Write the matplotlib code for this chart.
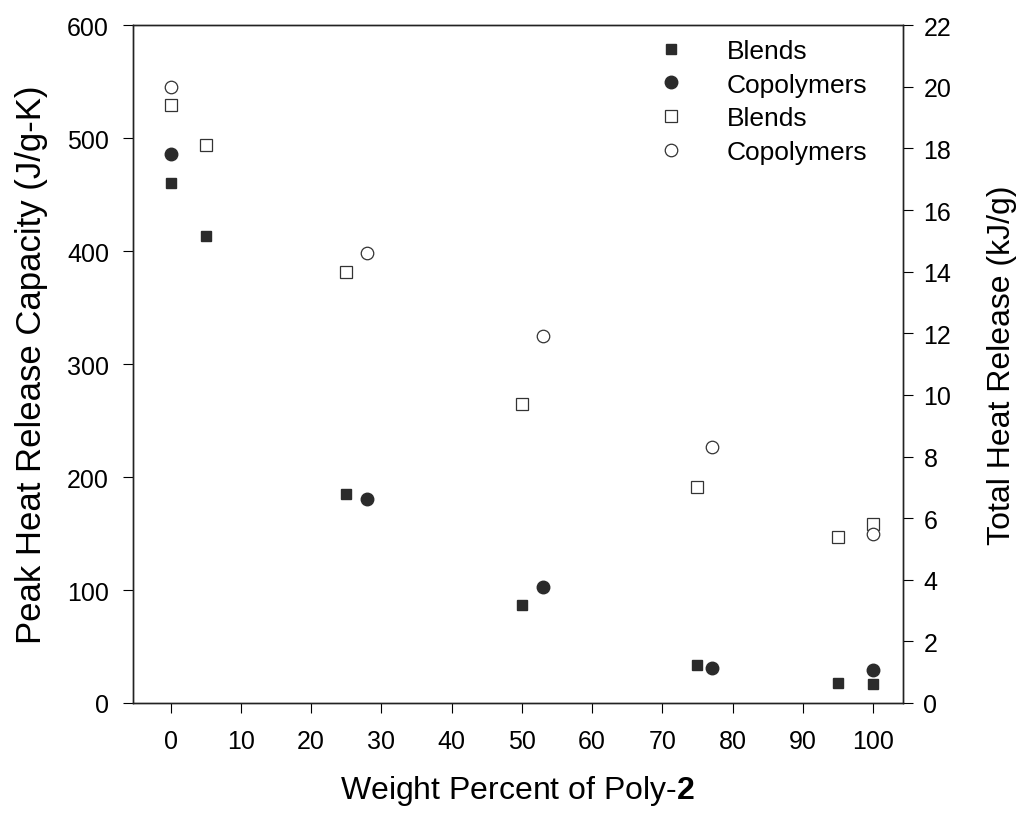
import matplotlib
matplotlib.use('Agg')
import matplotlib.pyplot as plt

plt.rcParams['font.family'] = ['Liberation Sans', 'DejaVu Sans']
plt.rcParams['mathtext.fontset'] = 'custom'
plt.rcParams['mathtext.bf'] = 'Liberation Sans:bold'

# Peak heat release capacity (left axis, J/g-K)
blend_x = [0, 5, 25, 50, 75, 95, 100]
blend_phrc = [460, 413, 185, 87, 34, 18, 17]
copo_x = [0, 28, 53, 77, 100]
copo_phrc = [486, 181, 103, 31, 29]

# Total heat release (right axis, kJ/g)
blend_thr = [19.4, 18.1, 14.0, 9.7, 7.0, 5.4, 5.8]
copo_thr = [20.0, 14.6, 11.9, 8.3, 5.5]

x_ticks = [0, 10, 20, 30, 40, 50, 60, 70, 80, 90, 100]
left_ticks = [0, 100, 200, 300, 400, 500, 600]
right_ticks = [0, 2, 4, 6, 8, 10, 12, 14, 16, 18, 20, 22]

dark = '#2b2b2b'

fig = plt.figure(figsize=(10.21, 8.2), dpi=100)
ax = fig.add_axes([0.130, 0.1415, 0.754, 0.8265])
ax2 = ax.twinx()

h1, = ax.plot(blend_x, blend_phrc, 's', ms=7.5, color=dark, mec=dark, label='Blends')
h2, = ax.plot(copo_x, copo_phrc, 'o', ms=9, color=dark, mec=dark, label='Copolymers')
h3, = ax2.plot(blend_x, blend_thr, 's', ms=8, mfc='white', mec='#333333', mew=0.9, label='Blends')
h4, = ax2.plot(copo_x, copo_thr, 'o', ms=9, mfc='white', mec='#333333', mew=0.9, label='Copolymers')

ax.set_xlim(-5.4, 104.2)
ax.set_ylim(0, 600)
ax2.set_ylim(0, 22)
ax.set_xticks(x_ticks)
ax.set_yticks(left_ticks)
ax2.set_yticks(right_ticks)

ax.tick_params(axis='x', direction='out', length=7, width=0.8, labelsize=18, pad=12)
ax.tick_params(axis='y', direction='out', length=7, width=0.8, labelsize=18, pad=10)
ax2.tick_params(axis='y', direction='out', length=7, width=0.8, labelsize=18, pad=8)

for a in (ax, ax2):
    for s in a.spines.values():
        s.set_linewidth(1.0)
        s.set_color('#222222')

ax.set_xlabel('Weight Percent of Poly-$\\mathbf{2}$', fontsize=23, labelpad=14)
ax.set_ylabel('Peak Heat Release Capacity (J/g-K)', fontsize=25, labelpad=14)
ax2.set_ylabel('Total Heat Release (kJ/g)', fontsize=23, labelpad=26)

leg = ax2.legend(handles=[h1, h2, h3, h4], loc='upper left',
                 bbox_to_anchor=(0.673, 0.98), frameon=False, fontsize=19,
                 handlelength=1.5, handletextpad=1.38, labelspacing=0.37,
                 borderpad=0, borderaxespad=0)

fig.savefig('out.png', dpi=100)
